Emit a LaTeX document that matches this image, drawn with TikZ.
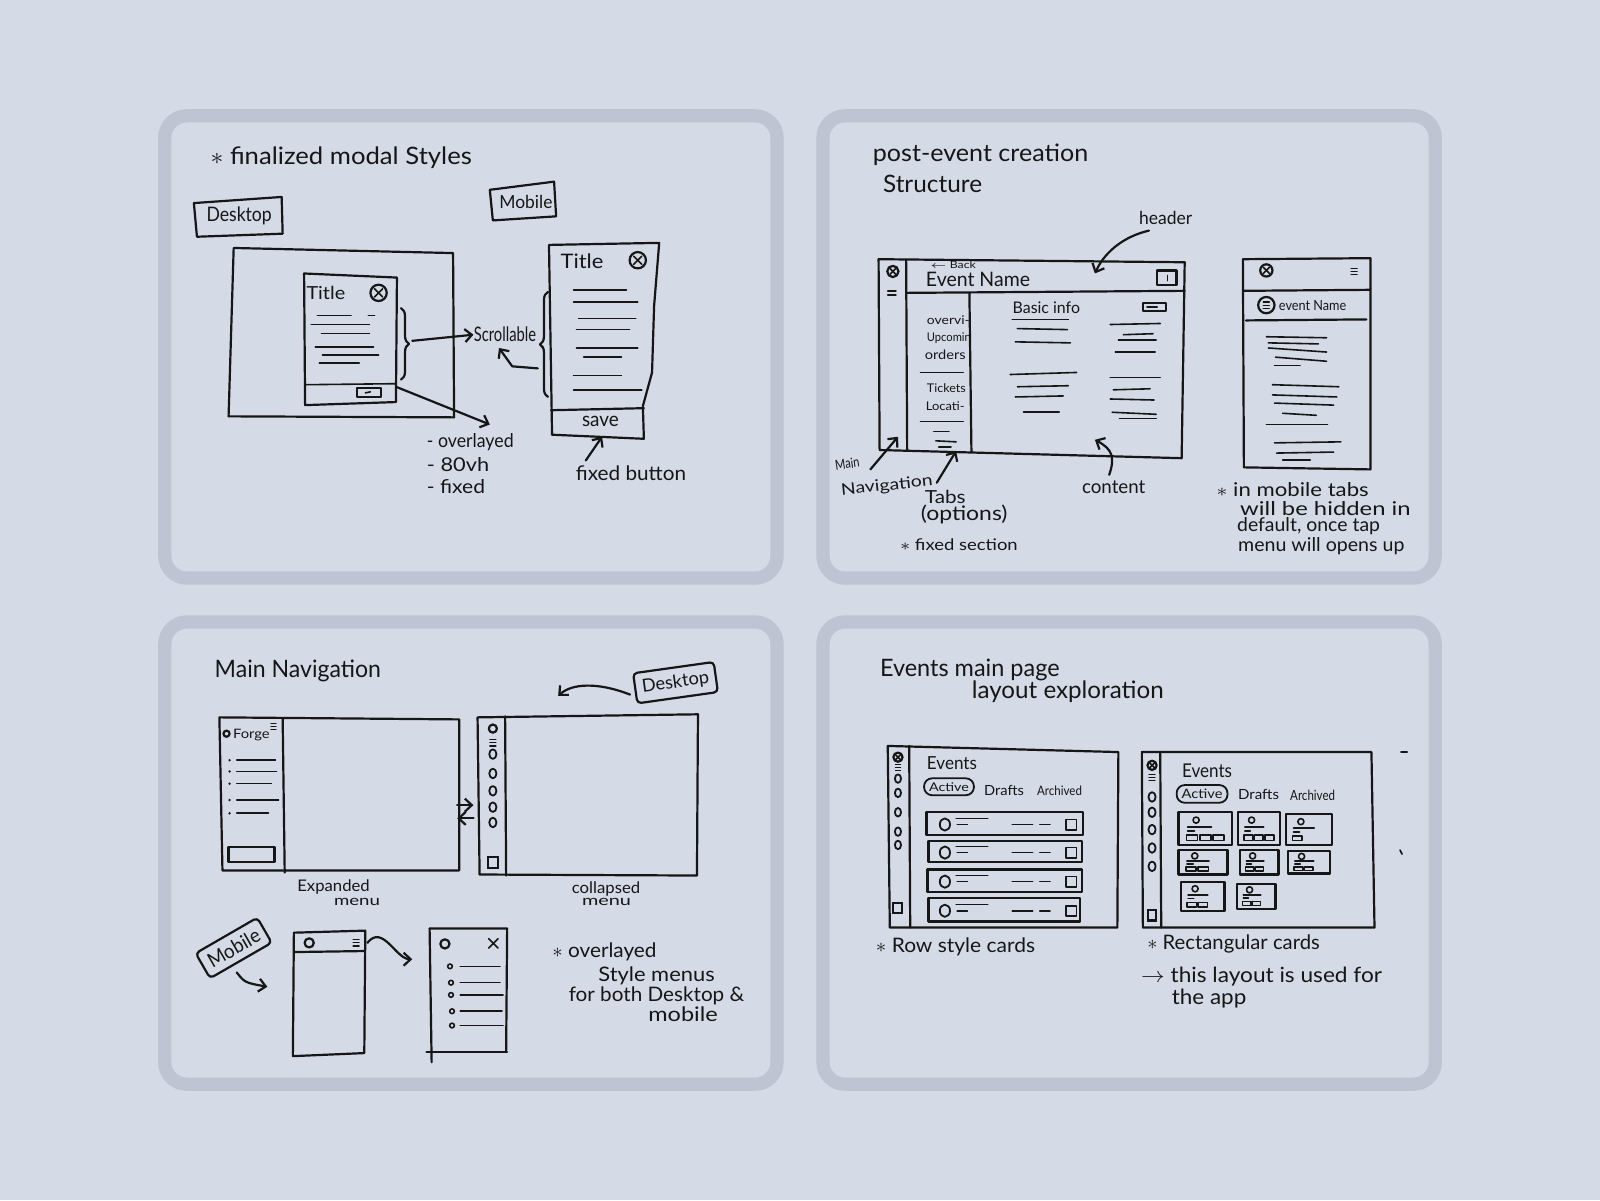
\documentclass[tikz,border=0pt]{standalone}
\usepackage{fontspec}
\setmainfont{Lato}
\usetikzlibrary{arrows.meta,decorations.pathreplacing,calc}
\newlength\unitpx
\setlength\unitpx{0.5102pt}
\newcommand\fw[3][10]{\resizebox{#2\unitpx}{\height}{\fontsize{#1pt}{#1pt}\selectfont #3}}
\definecolor{bgc}{HTML}{D4DAE6}
\definecolor{framec}{HTML}{BEC4D2}
\definecolor{inkc}{HTML}{161616}
\newcommand\menuic[3]{\draw[fine,line width=0.6pt] (#1-#3,#2-3)--(#1+#3,#2-3) (#1-#3,#2)--(#1+#3,#2) (#1-#3,#2+3)--(#1+#3,#2+3);}
\newcommand\closeic[3]{\draw[sk] (#1,#2) circle (#3); \draw[fine] (#1-0.5*#3,#2-0.5*#3)--(#1+0.5*#3,#2+0.5*#3) (#1+0.5*#3,#2-0.5*#3)--(#1-0.5*#3,#2+0.5*#3);}
\newcommand\ringic[3]{\draw[sk,line width=0.9pt] (#1,#2) ellipse (#3 and #3+1.2);}
\begin{document}
\begin{tikzpicture}[x=0.5102pt,y=-0.5102pt,
 sk/.style={draw=inkc,line width=1.1pt,line cap=round,line join=round},
 fine/.style={draw=inkc,line width=0.8pt,line cap=round,line join=round},
 txt/.style={inner sep=0pt,anchor=west,text=inkc},
 arr/.style={sk,-{Straight Barb[length=3.5pt,width=6.5pt]}},
 brc/.style={sk,decorate,decoration={brace,amplitude=4pt}},
 panel/.style={draw=framec,fill=bgc,line width=6.63pt,rounded corners=11pt},
 tag/.style={sk,inner sep=3.5pt,rounded corners=2pt,text=inkc},
 pill/.style={sk,line width=0.9pt,inner xsep=2.5pt,inner ysep=2pt,rounded corners=4pt,text=inkc}]
\fill[bgc] (0,0) rectangle (1568,1176);
\useasboundingbox (0,0) rectangle (1568,1176);
\foreach \px/\py in {161.5/113.5, 806.5/113.5, 161.5/609.5, 806.5/609.5}
  \draw[panel] (\px,\py) rectangle ++(600,453);

% ================= PANEL 1 =================
\node[txt] (p1title) at (206,155) {\fw[12]{256}{$\ast$\ finalized modal Styles}};
\draw[sk] (190,199) -- (276,193) -- (277,229) -- (193,232) -- cycle;
\node[txt] (p1desk) at (202,212) {\fw[10]{64}{Desktop}};
\draw[sk] (480,186) -- (543,178) -- (545,212) -- (483,216) -- cycle;
\node[txt] (p1mob) at (489,198) {\fw[9]{52}{Mobile}};
\draw[sk] (229,243) -- (444,248) -- (445,409) -- (224,408) -- cycle;
\draw[sk] (298,268) -- (389,272) -- (388,394) -- (299,397) -- cycle;
\node[txt] (p1mt) at (300,287) {\fw[9]{38}{Title}};
\closeic{371}{287}{8}
\foreach \xa/\ya/\xb/\yb in {311/309/344/309, 361/309/367/309, 305/318/362/318, 315/327/362/327, 309/340/366/340, 316/348/371/348, 313/356/352/356}
  \draw[fine] (\xa,\ya) -- (\xb,\yb);
\draw[fine] (299,377) -- (388,376);
\draw[sk] (350,380) rectangle (373,389);
\draw[fine] (358,385) -- (363,384);
\draw[brc] (393,302) -- (393,372);
\coordinate (p1brtip) at (404,334);
\node[txt] (p1scroll) at (464,328) {\fw[10]{61}{Scrollable}};
\draw[arr] (p1brtip) -- (p1scroll.west);
\draw[sk] (538,240) -- (646,238) -- (641,300) -- (639,365) -- (630,398) -- (631,430) -- (541,426) -- cycle;
\draw[sk] (540,402) -- (631,400);
\node[txt] (p1save) at (570,413) {\fw[10]{36}{save}};
\node[txt] (p1mt2) at (549,256) {\fw[10]{42}{Title}};
\closeic{625}{255}{8}
\foreach \xa/\ya/\xb/\yb in {562/284/614/284, 562/296/625/296, 567/312/623/312, 565/323/617/323, 565/341/625/341, 572/350/609/350, 562/368/609/368, 562/382/629/382}
  \draw[fine] (\xa,\ya) -- (\xb,\yb);
\draw[brc] (537,389) -- (537,286);
\coordinate (p1mbr) at (527,361);
\coordinate (p1up) at (489,341);
\draw[arr] (p1mbr) -- (502,359) -- (p1up);
\coordinate (p1corner) at (388,379);
\coordinate (p1listtop) at (480,416);
\draw[arr] (p1corner) -- (p1listtop);
\node[txt] (p1l1) at (418,433) {\fw[9.5]{85}{- overlayed}};
\node[txt] (p1l2) at (418,455) {\fw[9.5]{61}{- 80vh}};
\node[txt] (p1l3) at (418,477) {\fw[9.5]{57}{- fixed}};
\node[txt] (p1fb) at (564,464) {\fw[10]{108}{fixed button}};
\coordinate (p1foot) at (590,428);
\draw[arr] ($(p1fb.north west)+(10,-5)$) -- (p1foot);

% ================= PANEL 2 =================
\node[txt] (p2t1) at (855,152) {\fw[12]{211}{post-event creation}};
\node[txt] (p2t2) at (865,180) {\fw[12]{97}{Structure}};
\node[txt] (p2hdr) at (1116,214) {\fw[9]{52}{header}};
\draw[sk] (861,254) -- (1161,257) -- (1158,449) -- (862,441) -- cycle;
\draw[sk] (888,255) -- (889,441);
\draw[sk] (888,287) -- (1161,285);
\draw[sk] (950,287) -- (952,443);
\closeic{875}{266}{5.5}
\draw[fine] (870,285) -- (878,285) (870,289) -- (878,289);
\node[txt] (p2back) at (911,260) {\fw[5]{45}{$\leftarrow$ Back}};
\node[txt] (p2ev) at (907,274) {\fw[10]{102}{Event Name}};
\draw[sk] (1134,265) rectangle (1153,279);
\draw[fine] (1144,270) -- (1144,275);
\node[txt] (p2basic) at (992,302) {\fw[8]{66}{Basic info}};
\draw[sk] (1120,297) rectangle (1143,305);
\draw[fine] (1124,301) -- (1134,301);
\node[txt] (p2tab1) at (908,314) {\fw[6]{42}{overvi-}};
\node[txt] (p2tab2) at (908,331) {\fw[6]{43}{Upcomin}};
\node[txt] (p2tab3) at (906,348) {\fw[6.5]{40}{orders}};
\node[txt] (p2tab4) at (908,380) {\fw[6]{38}{Tickets}};
\node[txt] (p2tab5) at (907,398) {\fw[6]{38}{Locati-}};
\foreach \xa/\ya/\xb/\yb in {902/365/944/365, 902/413/944/413, 915/423/930/423, 917/432/937/433, 920/438/932/438,
  992/313/1047/313, 997/322/1046/323, 995/335/1049/336, 990/367/1055/365, 997/379/1047/378, 995/389/1042/388, 1003/404/1038/404,
  1088/318/1137/317, 1101/328/1130/327, 1096/333/1133/333, 1093/345/1132/345, 1088/370/1137/370, 1091/382/1127/381, 1088/391/1131/392, 1090/404/1133/406, 1097/410/1133/410}
  \draw[fine] (\xa,\ya) -- (\xb,\yb);
\coordinate (p2hin) at (1073,268);
\draw[arr] ($(p2hdr.south west)+(10,5)$) .. controls (1100,232) and (1082,248) .. (p2hin);
% mobile
\draw[sk] (1218,254) -- (1343,253) -- (1343,460) -- (1219,458) -- cycle;
\draw[sk] (1218,285) -- (1343,284);
\closeic{1241}{265}{6}
\menuic{1327}{266}{3}
\draw[sk] (1241,299) circle (8);
\draw[fine,line width=0.6pt] (1238,296)--(1244,296) (1238,299)--(1244,299) (1238,302)--(1244,302);
\node[txt] (p2mev) at (1253,299) {\fw[7]{66}{event Name}};
\draw[sk] (1221,314) -- (1339,313);
\foreach \xa/\ya/\xb/\yb in {1241/330/1300/331, 1243/336/1292/337, 1243/341/1300/345, 1250/350/1300/354, 1249/358/1274/358, 1247/377/1312/379, 1247/387/1310/389, 1249/395/1307/397, 1257/405/1290/407, 1241/416/1301/416, 1249/434/1314/433, 1251/444/1307/443, 1257/451/1284/451}
  \draw[fine] (\xa,\ya) -- (\xb,\yb);
% labels
\node[txt,rotate=8] (p2mn1) at (818,456) {\fw[7]{24}{Main}};
\node[txt,rotate=6] (p2mn2) at (824,481) {\fw[8]{90}{Navigation}};
\coordinate (p2navin) at (880,428);
\draw[arr] (853,460) -- (p2navin);
\node[txt] (p2tabs) at (906,487) {\fw[9]{40}{Tabs}};
\node[txt] (p2opt) at (902,504) {\fw[10]{85}{(options)}};
\coordinate (p2tabin) at (937,442);
\draw[arr] ($(p2tabs.north west)+(12,-7)$) -- (p2tabin);
\node[txt] (p2fixed) at (882,534) {\fw[8]{115}{$\ast$ fixed section}};
\node[txt] (p2cont) at (1060,477) {\fw[9.5]{62}{content}};
\coordinate (p2contin) at (1073,431);
\draw[arr] ($(p2cont.north west)+(27,-5)$) .. controls (1093,448) and (1090,440) .. (p2contin);
\node[txt] (p2n1) at (1192,480) {\fw[9.5]{149}{$\ast$ in mobile tabs}};
\node[txt] (p2n2) at (1215,498) {\fw[9.5]{167}{will be hidden in}};
\node[txt] (p2n3) at (1212,516) {\fw[9.5]{140}{default, once tap}};
\node[txt] (p2n4) at (1213,535) {\fw[9.5]{163}{menu will opens up}};

% ================= PANEL 3 =================
\node[txt] (p3title) at (210,657) {\fw[12]{163}{Main Navigation}};
\draw[sk] (215,703) -- (450,705) -- (450,853) -- (218,853) -- cycle;
\draw[sk] (277,704) -- (279,855);
\draw[sk] (222,719) circle (3);
\node[txt] (p3forge) at (228,720) {\fw[6.5]{36}{Forge}};
\menuic{268}{712}{2.5}
\foreach \yy/\xe in {745/270, 756/271, 768/266, 784/273, 797/263} {
  \fill[inkc] (225,\yy) circle (1.3);
  \draw[fine] (232,\yy) -- (\xe,\yy);
}
\draw[sk] (224,830) rectangle (269,845);
\draw[arr] (448,789) -- (464,789);
\draw[arr] (464,802) -- (448,802);
\draw[sk] (468,703) -- (684,700) -- (683,858) -- (470,857) -- cycle;
\draw[sk] (495,702) -- (496,858);
\draw[sk] (483,714) circle (4);
\menuic{483}{728}{3}
\foreach \yy in {739,758,775,791,806} \ringic{483}{\yy}{3.5}
\draw[sk] (478,840) rectangle (488,851);
\node[tag,rotate=8] (p3dtag) at (662,669) {\fw[9]{66}{Desktop}};
\coordinate (p3din) at (547,682);
\draw[arr] ($(p3dtag.west)+(-4,6)$) .. controls (585,668) and (560,670) .. (p3din);
\node[txt] (p3exp1) at (291,869) {\fw[8]{71}{Expanded}};
\node[txt] (p3exp2) at (327,884) {\fw[7]{45}{menu}};
\node[txt] (p3col1) at (560,871) {\fw[8]{67}{collapsed}};
\node[txt] (p3col2) at (570,884) {\fw[7]{48}{menu}};
\node[tag,rotate=30] (p3mtag) at (229,929) {\fw[10]{56}{Mobile}};
\coordinate (p3min) at (262,967);
\draw[arr] (232,953) .. controls (240,963) .. (p3min);
\draw[sk] (288,914) -- (358,912) -- (357,1032) -- (287,1035) -- cycle;
\draw[sk] (288,933) -- (357,932);
\draw[sk] (303,924) circle (4.5);
\menuic{349}{924}{3}
\coordinate (p3m1) at (360,924);
\coordinate (p3m2) at (404,940);
\draw[arr] (p3m1) .. controls (375,905) and (388,940) .. (p3m2);
\draw[sk] (421,910) -- (497,910) -- (496,1031);
\draw[sk] (421,910) -- (423,1041);
\draw[sk] (418,1031) -- (497,1031);
\draw[sk] (436,925) circle (4.5);
\draw[fine] (479,920) -- (488,929) (488,920) -- (479,929);
\foreach \xb/\yy/\xe in {441/947/490, 442/963/490, 442/975/493, 443/991/492, 443/1005/493} {
  \draw[fine] (\xb,\yy) circle (2.3);
  \draw[fine] (451,\yy) -- (\xe,\yy);
}
\node[txt] (p3n1) at (541,933) {\fw[10]{102}{$\ast$ overlayed}};
\node[txt] (p3n2) at (586,956) {\fw[10]{114}{Style menus}};
\node[txt] (p3n3) at (557,976) {\fw[10]{172}{for both Desktop \&}};
\node[txt] (p3n4) at (635,994) {\fw[10]{68}{mobile}};

% ================= PANEL 4 =================
\node[txt] (p4t1) at (862,657) {\fw[12]{176}{Events main page}};
\node[txt] (p4t2) at (952,678) {\fw[12]{188}{layout exploration}};
% left: row cards
\draw[sk] (870,731) -- (1096,737) -- (1095,909) -- (872,909) -- cycle;
\draw[sk] (891,731) -- (892,909);
\closeic{880}{742}{4.5}
\menuic{880}{752}{2.5}
\foreach \yy in {763,777,796,815,828} \ringic{880}{\yy}{3}
\draw[sk] (875,885) rectangle (884,895);
\node[txt] (p4ev1) at (908,748) {\fw[9]{49}{Events}};
\node[pill] (p4pill1) at (930,771) {\fw[6]{39}{Active}};
\node[txt] (p4dr1) at (964,775) {\fw[7]{39}{Drafts}};
\node[txt] (p4ar1) at (1016,775) {\fw[6.5]{44}{Archived}};
\foreach \xa/\ya/\xb/\yb in {908/796/1061/818, 910/824/1060/845, 909/852/1060/874, 910/880/1058/903} {
  \draw[sk] (\xa,\ya) rectangle (\xb,\yb);
  \draw[sk,line width=0.9pt] (926,{(\ya+\yb)/2+1}) ellipse (5 and 6);
  \draw[fine] (937,{(\ya+\yb)/2-5}) -- (968,{(\ya+\yb)/2-5});
  \draw[fine] (938,{(\ya+\yb)/2+1}) -- (948,{(\ya+\yb)/2+1});
  \draw[fine] (992,{(\ya+\yb)/2+1}) -- (1012,{(\ya+\yb)/2+1});
  \draw[fine] (1019,{(\ya+\yb)/2+1}) -- (1029,{(\ya+\yb)/2+1});
  \draw[sk,line width=0.9pt] (1045,{(\ya+\yb)/2-4}) rectangle (1055,{(\ya+\yb)/2+6});
}
% right: rectangular cards
\draw[sk] (1119,737) -- (1344,737) -- (1347,909) -- (1120,909) -- cycle;
\draw[sk] (1137,737) -- (1138,909);
\closeic{1129}{750}{4.5}
\menuic{1129}{762}{3}
\foreach \yy in {781,796,813,831,849} \ringic{1129}{\yy}{3.5}
\draw[sk] (1125,892) rectangle (1133,902);
\node[txt] (p4ev2) at (1158,755) {\fw[9.5]{49}{Events}};
\node[pill] (p4pill2) at (1178,778) {\fw[6.5]{40}{Active}};
\node[txt] (p4dr2) at (1213,779) {\fw[7]{40}{Drafts}};
\node[txt] (p4ar2) at (1264,779) {\fw[7]{44}{Archived}};
\foreach \xa/\ya/\xb/\yb/\nb in {1155/796/1207/828/2, 1213/796/1254/828/2, 1260/798/1305/828/0, 1155/833/1203/857/1, 1215/833/1253/857/1, 1262/834/1303/856/1, 1157/864/1200/893/1, 1212/866/1250/891/1} {
  \draw[sk] (\xa,\ya) rectangle (\xb,\yb);
  \draw[fine] ({\xa+0.33*(\xb-\xa)},{\ya+0.24*(\yb-\ya)}) circle (3);
  \draw[fine] ({\xa+0.17*(\xb-\xa)},{\ya+0.45*(\yb-\ya)}) -- ({\xa+0.62*(\xb-\xa)},{\ya+0.45*(\yb-\ya)});
  \draw[fine] ({\xa+0.17*(\xb-\xa)},{\ya+0.57*(\yb-\ya)}) -- ({\xa+0.3*(\xb-\xa)},{\ya+0.57*(\yb-\ya)});
  \foreach \k in {0,...,\nb}
    \draw[fine] ({\xa+(0.15+0.25*\k)*(\xb-\xa)},{\ya+0.7*(\yb-\ya)}) rectangle ({\xa+(0.36+0.25*\k)*(\xb-\xa)},{\ya+0.86*(\yb-\ya)});
}
\node[txt] (p4c1) at (858,928) {\fw[10]{156}{$\ast$ Row style cards}};
\node[txt] (p4c2) at (1124,925) {\fw[10]{169}{$\ast$ Rectangular cards}};
\node[txt] (p4c3) at (1118,957) {\fw[10.5]{236}{$\rightarrow$ this layout is used for}};
\node[txt] (p4c4) at (1148,979) {\fw[10.5]{73}{the app}};
\draw[fine] (1373,737) -- (1379,737);
\draw[fine] (1372,833) -- (1374,837);
\end{tikzpicture}
\end{document}
